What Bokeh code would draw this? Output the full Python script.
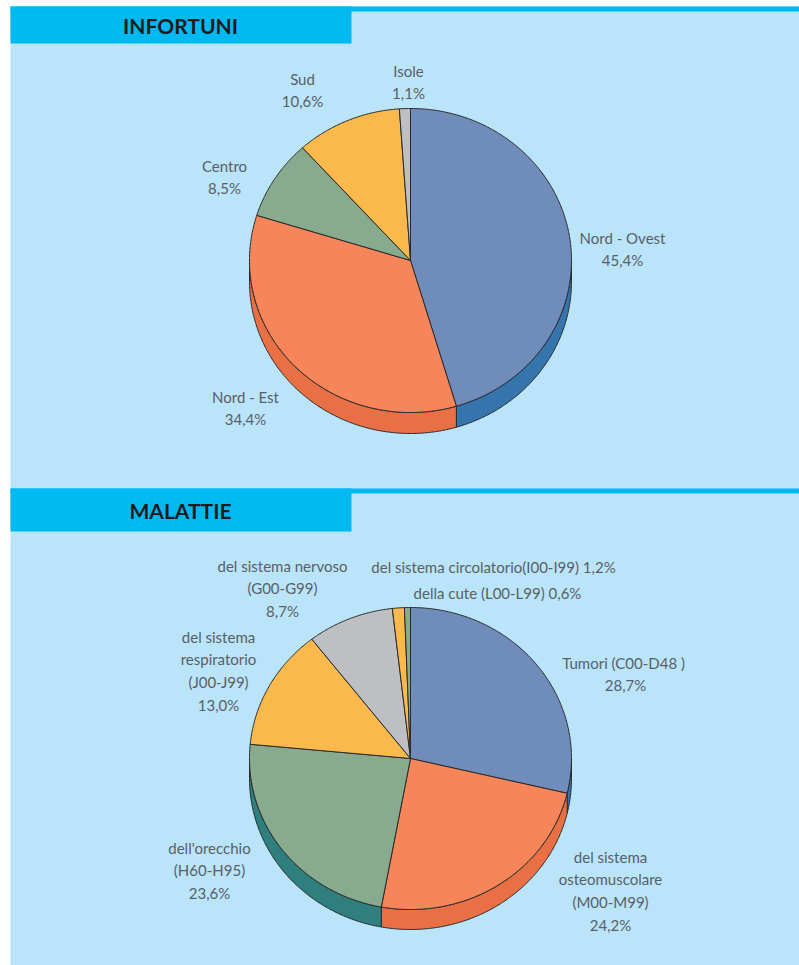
import numpy as np
from bokeh.plotting import figure
from bokeh.models import Range1d, ColumnDataSource
from bokeh.core.properties import value
from bokeh.embed import file_html
from bokeh.resources import INLINE

# ---------------- data ----------------
inf_title = "INFORTUNI"
inf_names = [["Nord - Ovest"], ["Nord - Est"], ["Centro"], ["Sud"], ["Isole"]]
inf_values = [45.4, 34.4, 8.5, 10.6, 1.1]

mal_title = "MALATTIE"
mal_names = [["Tumori (C00-D48  )"],
             ["del sistema", "osteomuscolare", "(M00-M99)"],
             ["dell'orecchio", "(H60-H95)"],
             ["del sistema", "respiratorio", "(J00-J99)"],
             ["del sistema nervoso", "(G00-G99)"],
             ["del sistema circolatorio(I00-I99)"],
             ["della cute (L00-L99)"]]
mal_values = [28.7, 24.2, 23.6, 13.0, 8.7, 1.2, 0.6]
mal_inline_pct = [False, False, False, False, False, True, True]

# ---------------- styles / layout ----------------
BLUE, ORANGE, GREEN, YELLOW, GRAY = "#6f8cba", "#f68659", "#88ab8d", "#fbb94d", "#bebfc3"
SIDE = {BLUE: "#3574ad", ORANGE: "#e96f45", GREEN: "#2f7f7f", YELLOW: "#e89a2e", GRAY: "#9a9a9e"}
inf_colors = [BLUE, ORANGE, GREEN, YELLOW, GRAY]
mal_colors = [BLUE, ORANGE, GREEN, YELLOW, GRAY, YELLOW, GREEN]

LIGHT = "#b9e4f9"
CYAN = "#00b9f1"
TXT = "#5a5f66"
FONT = value("Lato")

W, H = 799, 965
p = figure(width=W, height=H, x_range=Range1d(0, W), y_range=Range1d(H, 0),
           toolbar_location=None, output_backend="svg", min_border=0)
p.axis.visible = False
p.grid.visible = False
p.outline_line_color = None
p.background_fill_color = "white"
p.border_fill_color = "white"

# panel background
p.quad(left=10, right=800, top=6, bottom=966, fill_color=LIGHT, line_color=None)
# stripes and tabs
for y0, y1, t0, t1, title, ty in [(6, 11, 6, 43, inf_title, 24.5), (488, 493, 488, 531, mal_title, 510)]:
    p.quad(left=10, right=800, top=y0, bottom=y1, fill_color=CYAN, line_color=None)
    p.quad(left=10, right=351, top=t0, bottom=t1, fill_color=CYAN, line_color=None)
    p.text(x=[180], y=[ty], text=[title], text_font=FONT, text_font_style="bold",
           text_font_size="21px", text_color="#1b1b1d", text_align="center", text_baseline="middle")


def fmt(v):
    return f"{v:.1f}".replace(".", ",") + "%"


def draw_pie(vals, colors, cx, cy, rx, ry, depth):
    total = float(sum(vals))
    cum = np.concatenate([[0.0], np.cumsum(vals)]) / total * 360.0
    sx, sy, sc, tx, ty, tc = [], [], [], [], [], []
    for i in range(len(vals)):
        a0, a1 = cum[i], cum[i + 1]
        n = max(4, int((a1 - a0) * 2))
        t = np.radians(np.linspace(a0, a1, n))
        tx.append([cx] + list(cx + rx * np.sin(t)))
        ty.append([cy] + list(cy - ry * np.cos(t)))
        tc.append(colors[i])
        s0, s1 = max(a0, 90.0), min(a1, 270.0)
        if s1 > s0:
            t = np.radians(np.linspace(s0, s1, max(4, int((s1 - s0) * 2))))
            ex = cx + rx * np.sin(t)
            ey = cy - ry * np.cos(t)
            sx.append(list(ex) + list(ex[::-1]))
            sy.append(list(ey) + list(ey[::-1] + depth))
            sc.append(SIDE[colors[i]])
    p.patches(xs=sx, ys=sy, fill_color=sc, line_color="#2a2a2a", line_width=1)
    p.patches(xs=tx, ys=ty, fill_color=tc, line_color="#2a2a2a", line_width=1)


draw_pie(inf_values, inf_colors, 410, 260, 161, 152, 21)
draw_pie(mal_values, mal_colors, 410, 758, 161, 151, 20)

# label anchors (center x, first line y)
inf_anchor = [(622, 237), (245, 396), (224, 165), (302, 78), (408, 70)]
mal_anchor = [(625, 662), (610, 856), (209, 847), (218, 636), (282, 565), (493, 566), (497, 592)]
LH = 22.8

lx, ly, lt = [], [], []
for names, v, (ax, ay) in zip(inf_names, inf_values, inf_anchor):
    lines = names + [fmt(v)]
    for k, s in enumerate(lines):
        lx.append(ax); ly.append(ay + k * LH); lt.append(s)
for names, v, inline, (ax, ay) in zip(mal_names, mal_values, mal_inline_pct, mal_anchor):
    lines = list(names)
    if inline:
        lines[-1] = lines[-1] + " " + fmt(v)
    else:
        lines.append(fmt(v))
    for k, s in enumerate(lines):
        lx.append(ax); ly.append(ay + k * LH); lt.append(s)

src = ColumnDataSource(dict(x=lx, y=ly, text=lt))
p.text(x="x", y="y", text="text", source=src, text_font=FONT, text_font_size="15px",
       text_color=TXT, text_align="center", text_baseline="middle")

open("out.html", "w").write(file_html(p, INLINE))
